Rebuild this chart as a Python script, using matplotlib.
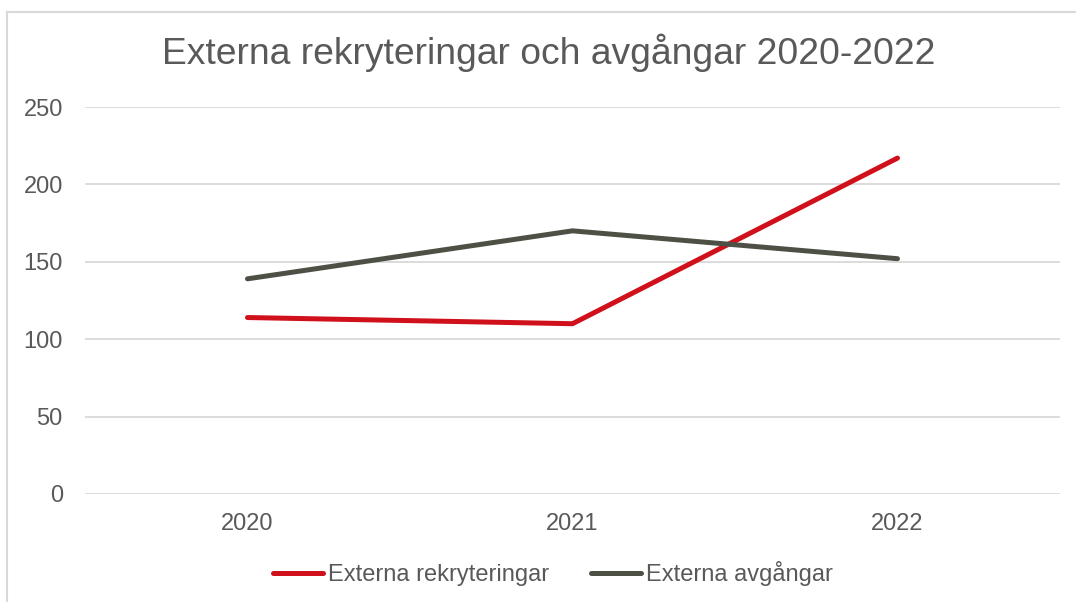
import matplotlib.pyplot as plt
from matplotlib.lines import Line2D

plt.rcParams['font.family'] = ['Liberation Sans', 'DejaVu Sans']

# data
years = ['2020', '2021', '2022']
rekryteringar = [114, 110, 217]
avgangar = [139, 170, 152]

red = '#D0101A'
dark = '#4D5045'
txt = '#595959'
grid = '#D9D9D9'

fig = plt.figure(figsize=(10.76, 6.02), dpi=100)
ax = fig.add_axes([85/1076, 1 - 494/602, 975/1076, 387/602])

x = range(len(years))
ax.plot(x, rekryteringar, color=red, lw=3.6, solid_capstyle='round', solid_joinstyle='round',
        label='Externa rekryteringar')
ax.plot(x, avgangar, color=dark, lw=3.6, solid_capstyle='round', solid_joinstyle='round',
        label='Externa avgångar')

ax.set_xlim(-0.5, 2.5)
ax.set_ylim(0, 250)
ax.set_yticks(range(0, 251, 50))
ax.set_xticks(list(x))
ax.set_xticklabels(years)
ax.grid(axis='y', color=grid, lw=1.3)
ax.set_axisbelow(True)
for s in ax.spines.values():
    s.set_visible(False)
ax.tick_params(length=0, labelsize=17, colors=txt)
ax.tick_params(axis='y', pad=16)
ax.tick_params(axis='x', pad=14)

fig.text(549/1076, 1 - 53/602, 'Externa rekryteringar och avgångar 2020-2022',
         ha='center', va='center', fontsize=26.8, color=txt)

fig.legend(loc='center', bbox_to_anchor=(553/1076, 1 - 574/602), ncol=2, frameon=False,
           fontsize=17, labelcolor=txt, handlelength=2.1, handletextpad=0.2,
           columnspacing=1.8)

# chart border (left and top visible)
fig.add_artist(Line2D([6.5/1076, 6.5/1076], [0, 1 - 11.5/602], transform=fig.transFigure,
                      color=grid, lw=1.5))
fig.add_artist(Line2D([6.5/1076, 1], [1 - 11.5/602, 1 - 11.5/602], transform=fig.transFigure,
                      color=grid, lw=1.5))

fig.savefig('out.png', dpi=100)
